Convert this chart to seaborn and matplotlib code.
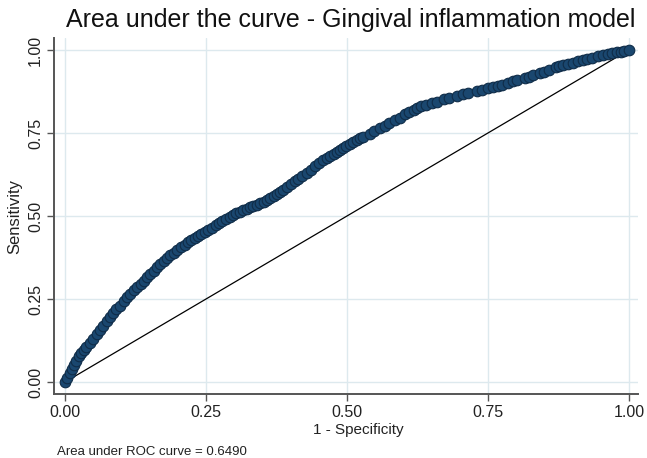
import matplotlib
matplotlib.use("Agg")
import matplotlib.pyplot as plt
import seaborn as sns
import pandas as pd

# 1 - specificity (false positive rate)
fpr = [0.000, 0.004, 0.008, 0.012, 0.016, 0.020, 0.024, 0.028, 0.033, 0.038,
       0.044, 0.050, 0.056, 0.062, 0.068, 0.074, 0.080, 0.085, 0.091, 0.097,
       0.104, 0.110, 0.116, 0.122, 0.128, 0.134, 0.140, 0.146, 0.151, 0.157,
       0.163, 0.169, 0.175, 0.181, 0.187, 0.193, 0.199, 0.205, 0.212, 0.218,
       0.224, 0.230, 0.236, 0.242, 0.248, 0.254, 0.260, 0.267, 0.273, 0.279,
       0.286, 0.292, 0.298, 0.304, 0.310, 0.316, 0.322, 0.328, 0.334, 0.340,
       0.346, 0.352, 0.358, 0.364, 0.370, 0.376, 0.382, 0.387, 0.393, 0.400,
       0.407, 0.414, 0.421, 0.429, 0.436, 0.443, 0.450, 0.457, 0.464, 0.470,
       0.477, 0.483, 0.488, 0.493, 0.499, 0.505, 0.511, 0.518, 0.523, 0.528,
       0.540, 0.548, 0.559, 0.567, 0.575, 0.586, 0.594, 0.603, 0.610, 0.618,
       0.624, 0.632, 0.640, 0.650, 0.660, 0.672, 0.680, 0.695, 0.705, 0.715,
       0.730, 0.740, 0.750, 0.759, 0.768, 0.775, 0.785, 0.795, 0.801, 0.815,
       0.822, 0.830, 0.842, 0.850, 0.858, 0.870, 0.876, 0.883, 0.892, 0.900,
       0.910, 0.918, 0.925, 0.935, 0.945, 0.954, 0.962, 0.970, 0.978, 0.985,
       0.992, 1.000]
# sensitivity (true positive rate)
tpr = [0.000, 0.012, 0.026, 0.038, 0.051, 0.064, 0.077, 0.088, 0.096, 0.105,
       0.117, 0.130, 0.144, 0.157, 0.170, 0.183, 0.196, 0.208, 0.219, 0.230,
       0.243, 0.255, 0.266, 0.276, 0.286, 0.295, 0.305, 0.316, 0.325, 0.335,
       0.345, 0.355, 0.365, 0.374, 0.382, 0.390, 0.398, 0.406, 0.414, 0.421,
       0.428, 0.434, 0.440, 0.446, 0.452, 0.459, 0.465, 0.472, 0.478, 0.484,
       0.491, 0.497, 0.503, 0.508, 0.512, 0.517, 0.522, 0.526, 0.530, 0.534,
       0.539, 0.543, 0.548, 0.554, 0.560, 0.566, 0.572, 0.578, 0.586, 0.595,
       0.604, 0.612, 0.621, 0.630, 0.640, 0.650, 0.660, 0.669, 0.676, 0.682,
       0.687, 0.692, 0.698, 0.705, 0.712, 0.718, 0.724, 0.730, 0.734, 0.738,
       0.747, 0.755, 0.765, 0.772, 0.780, 0.789, 0.795, 0.806, 0.812, 0.819,
       0.825, 0.830, 0.835, 0.839, 0.843, 0.851, 0.855, 0.862, 0.866, 0.870,
       0.875, 0.879, 0.884, 0.889, 0.892, 0.895, 0.902, 0.907, 0.910, 0.915,
       0.920, 0.925, 0.931, 0.935, 0.940, 0.948, 0.952, 0.955, 0.958, 0.962,
       0.966, 0.970, 0.973, 0.977, 0.981, 0.985, 0.988, 0.990, 0.993, 0.995,
       0.998, 1.000]
ref_line = [0.0, 1.0]
tick_vals = [0.0, 0.25, 0.5, 0.75, 1.0]
tick_labels = ["0.00", "0.25", "0.50", "0.75", "1.00"]
title = "Area under the curve - Gingival inflammation model"
auc_note = "Area under ROC curve = 0.6490"

df = pd.DataFrame({"fpr": fpr, "tpr": tpr})

sns.set_theme(style="white")
plt.rcParams["font.family"] = ["Liberation Sans", "DejaVu Sans"]

fig = plt.figure(figsize=(6.47, 4.58), dpi=100)
ax = fig.add_axes([54 / 647, 1 - 394 / 458, (638 - 54) / 647, (394 - 38) / 458])

ax.grid(True, color="#dde9ee", linewidth=1.0)
ax.set_axisbelow(True)

sns.lineplot(x=ref_line, y=ref_line, ax=ax, color="black", linewidth=0.9, zorder=2)
sns.scatterplot(data=df, x="fpr", y="tpr", ax=ax, s=58, color="#1a476f",
                edgecolor="#0f2c48", linewidth=0.8, zorder=3)

ax.set_xlim(-0.0195, 1.016)
ax.set_ylim(-0.036, 1.036)
ax.set_xticks(tick_vals)
ax.set_xticklabels(tick_labels, fontsize=11.5, color="#222222")
ax.set_yticks(tick_vals)
ax.set_yticklabels(tick_labels, fontsize=11.5, color="#222222", rotation=90, va="center")
ax.tick_params(axis="both", direction="out", length=5, width=1, color="#555555", pad=3,
               bottom=True, left=True)
ax.set_xlabel("")
ax.set_ylabel("")

for side in ["top", "right"]:
    ax.spines[side].set_visible(False)
for side in ["left", "bottom"]:
    ax.spines[side].set_color("#555555")
    ax.spines[side].set_linewidth(1.4)

fig.text(351 / 647, 1 - 20 / 458, title, ha="center", va="center", fontsize=18, color="#111111")
fig.text(358 / 647, 1 - 430 / 458, "1 - Specificity", ha="center", va="center", fontsize=11, color="#222222")
fig.text(15 / 647, 1 - 216 / 458, "Sensitivity", ha="center", va="center", rotation=90, fontsize=12, color="#222222")
fig.text(57 / 647, 1 - 452 / 458, auc_note, ha="left", va="center", fontsize=9.5, color="#222222")

fig.savefig("out.png", dpi=100)
